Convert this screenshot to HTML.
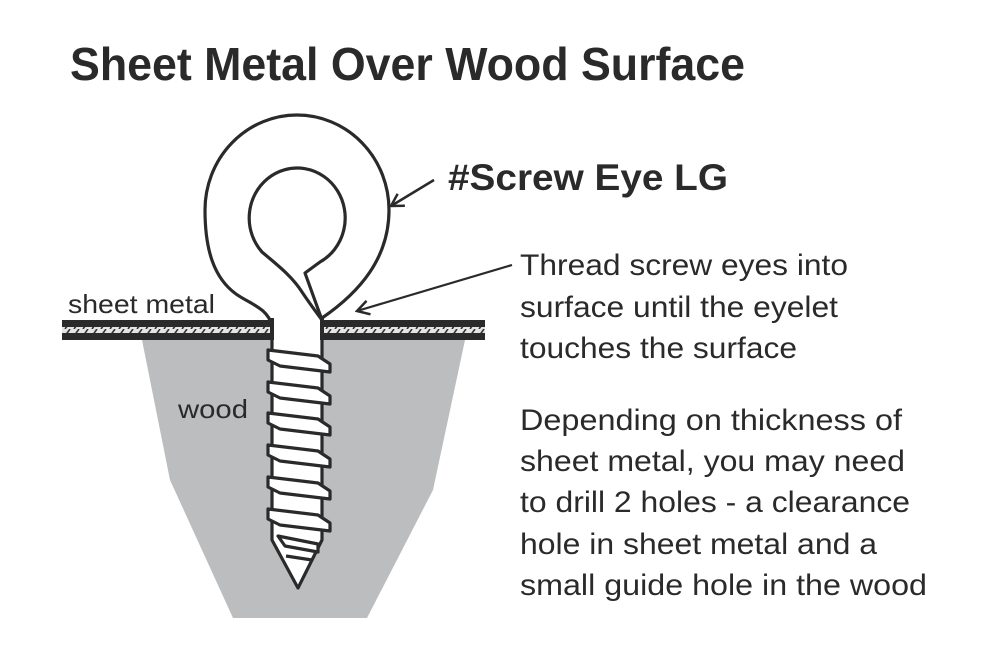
<!DOCTYPE html>
<html><head><meta charset="utf-8"><style>
html,body{margin:0;padding:0;background:#fff;}
svg{display:block;}
text{font-family:"Liberation Sans",Arial,sans-serif;fill:#2a2a2a;}
</style></head><body>
<svg width="1000" height="664" viewBox="0 0 1000 664" xmlns="http://www.w3.org/2000/svg">
<defs>
<pattern id="hatch" width="9" height="7" patternUnits="userSpaceOnUse">
<rect width="9" height="7" fill="#e4e4e4"/>
<line x1="2" y1="7" x2="7" y2="0" stroke="#333" stroke-width="1.6"/>
</pattern>
<marker id="ah" markerWidth="16" markerHeight="16" refX="14" refY="8" orient="auto" markerUnits="userSpaceOnUse">
<path d="M2,1 L14,8 L2,15" fill="none" stroke="#2a2a2a" stroke-width="2.5"/>
</marker>
</defs>
<text x="70" y="80" font-size="46" font-weight="bold" textLength="675" lengthAdjust="spacingAndGlyphs">Sheet Metal Over Wood Surface</text>

<!-- wood -->
<polygon points="142,340 465,340 433,490 367,618 233,618 170,480" fill="#bcbdbf"/>
<!-- sheet metal -->
<rect x="62" y="320" width="423" height="7" fill="#2a2a2a"/>
<rect x="62" y="327" width="423" height="6" fill="url(#hatch)"/>
<rect x="62" y="333" width="423" height="7" fill="#2a2a2a"/>

<!-- screw shaft -->
<g stroke="#2a2a2a" stroke-width="3.2" fill="#fff" stroke-linejoin="round">
<path d="M272,320 L272,540 L298,588 L322,540 L322,320 Z"/>
<g>
<path d="M268,350 L318,356 L330,364 L330,372 L280,366 L268,360 Z"/>
<path d="M268,382 L318,388 L330,396 L330,404 L280,398 L268,392 Z"/>
<path d="M268,413 L318,419 L330,427 L330,435 L280,429 L268,423 Z"/>
<path d="M268,445 L318,451 L330,459 L330,467 L280,461 L268,455 Z"/>
<path d="M268,477 L318,483 L330,491 L330,499 L280,493 L268,487 Z"/>
<path d="M268,509 L318,515 L330,523 L330,531 L280,525 L268,519 Z"/>
<path d="M278,536 L318,544 L318,552 L285,546 Z"/>
<path d="M286,556 L312,560" fill="none"/>
</g>
<!-- eye outer -->
<path d="M272,326 C268,308 250,304 236,294 C214,278 205,250 205,210 A92,95 0 0,1 389,210 C389,258 360,292 322,318 L322,326 Z"/>
<!-- eye hole -->
<path d="M305,273 L320,262 A48,50 0 1,0 262,252 C276,264 292,276 302,292 C310,304 316,312 322,320 Z"/>
</g>
<rect x="270" y="318" width="4" height="22" fill="#2a2a2a"/>
<rect x="320" y="318" width="4" height="22" fill="#2a2a2a"/>
<rect x="274" y="320" width="46" height="20" fill="#fff"/>

<!-- arrows -->
<line x1="434" y1="180" x2="391" y2="206" stroke="#2a2a2a" stroke-width="2.5" marker-end="url(#ah)"/>
<line x1="512" y1="265" x2="357" y2="311" stroke="#2a2a2a" stroke-width="2.2" marker-end="url(#ah)"/>

<text x="448" y="190" font-size="37" font-weight="bold" textLength="280" lengthAdjust="spacingAndGlyphs">#Screw Eye LG</text>
<text x="68" y="313" font-size="26" textLength="147" lengthAdjust="spacingAndGlyphs">sheet metal</text>
<text x="178" y="418" font-size="26" textLength="70" lengthAdjust="spacingAndGlyphs">wood</text>

<g font-size="30">
<text x="520" y="275" textLength="328" lengthAdjust="spacingAndGlyphs">Thread screw eyes into</text>
<text x="520" y="317" textLength="318" lengthAdjust="spacingAndGlyphs">surface until the eyelet</text>
<text x="520" y="358" textLength="277" lengthAdjust="spacingAndGlyphs">touches the surface</text>
<text x="520" y="430" textLength="382" lengthAdjust="spacingAndGlyphs">Depending on thickness of</text>
<text x="520" y="471" textLength="385" lengthAdjust="spacingAndGlyphs">sheet metal, you may need</text>
<text x="520" y="512" textLength="390" lengthAdjust="spacingAndGlyphs">to drill 2 holes - a clearance</text>
<text x="520" y="554" textLength="357" lengthAdjust="spacingAndGlyphs">hole in sheet metal and a</text>
<text x="520" y="595" textLength="407" lengthAdjust="spacingAndGlyphs">small guide hole in the wood</text>
</g>
</svg>
</body></html>
